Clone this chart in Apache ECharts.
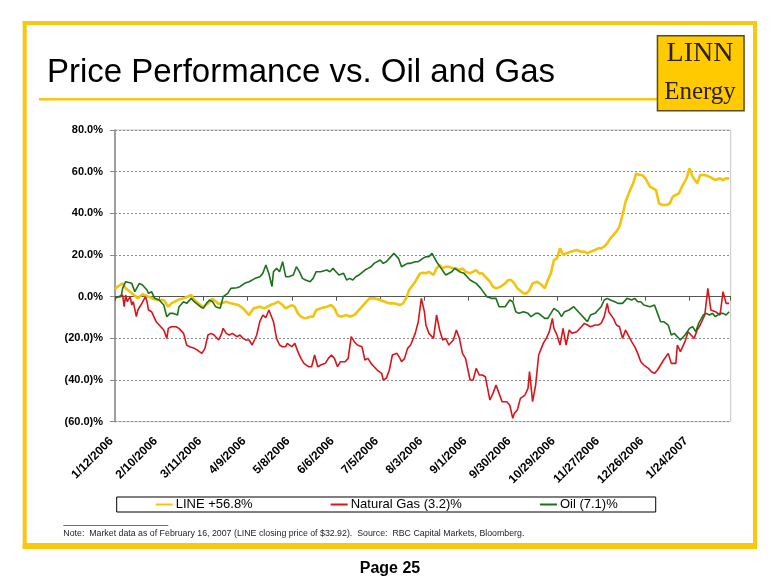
<!DOCTYPE html>
<html>
<head>
<meta charset="utf-8">
<script src="https://cdn.jsdelivr.net/npm/echarts@6/dist/echarts.min.js"></script>
<style>
html,body{margin:0;padding:0;background:#fff;}
#chart{width:780px;height:587px;}
</style>
</head>
<body>
<div id="chart"></div>
<script>
// Day offsets are counted from the first trading date, 1/12/2006.
var startDate = '1/12/2006';
var tickLabels = ['1/12/2006','2/10/2006','3/11/2006','4/9/2006','5/8/2006','6/6/2006','7/5/2006','8/3/2006','9/1/2006','9/30/2006','10/29/2006','11/27/2006','12/26/2006','1/24/2007'];
var tickStepDays = 29;
var lastDay = 404;

var seriesNames = ['LINE +56.8%', 'Natural Gas (3.2)%', 'Oil (7.1)%'];

var lineDays = [0,2,5,7,11,15,18,22,25,28,32,35,37,41,45,50,52,56,58,61,64,68,73,76,81,84,88,91,95,98,100,102,105,107,110,112,116,118,120,122,125,128,130,132,135,139,142,144,146,148,152,154,157,160,164,167,168,170,174,177,180,183,187,189,191,193,197,200,202,204,206,209,211,213,215,217,219,222,224,226,228,230,233,235,237,239,241,243,246,248,250,253,256,258,260,262,264,268,270,272,274,277,280,282,284,286,288,290,292,294,296,299,303,306,308,310,312,315,317,319,321,323,325,329,331,333,335,338,340,342,344,346,348,351,353,355,357,359,362,364,366,368,370,372,375,377,379,382,384,387,390,392,394,397,399,401,403];
var lineVals = [3.5,5,6.4,4,1.6,-0.8,1.2,0,-1,-1.6,-1.6,-4.8,-3.2,-1.6,-0.8,0.8,-1.6,-4,-4.8,-3.2,-1,-3.5,-2.4,-3.2,-4,-5.6,-8.8,-5.6,-4.8,-5.6,-4.8,-4,-3.2,-2.4,-4,-5.6,-4,-4.8,-8,-9.6,-10.4,-9.6,-9.6,-6.4,-5.6,-4.8,-4,-5.6,-8.8,-9.6,-8.8,-9.6,-8.8,-6.4,-3.2,-0.8,0,-0.8,-1.6,-2.4,-3.2,-3.2,-4,-3.2,-0.8,3.2,7.2,11,11.5,11.2,12,10.4,13.6,15.2,13.6,14.4,14.4,13.6,13.6,12.8,13.6,12,11.2,12,12.8,11.2,11.2,9.6,7.2,4.8,4,4.8,6.4,8,8,6.4,4,1.6,1.6,3.2,6.4,7.2,5.6,4,8,11.2,17.6,18.4,23.2,20,20.8,21.6,22.4,21.6,21.6,20.8,21.6,22.4,23.2,23.2,24,25.6,28,31.2,33.6,39.2,45.6,51.2,54.4,59.2,58.4,58.4,56.8,52.8,52,51.2,44.8,44,44,44.8,48,48.8,49.6,52.8,56.8,61.6,57.6,54.4,58.4,58.4,57.6,56.8,56,56.8,56,56.8,56.8];

var gasDays = [0,5,6,7,8,10,11,12,14,15,17,20,21,22,24,26,27,29,32,33,34,35,37,40,42,45,47,49,52,54,57,59,61,63,65,68,70,71,73,75,77,80,82,84,86,88,90,93,95,97,99,101,104,106,108,110,112,113,116,118,120,122,124,127,129,131,133,135,138,140,142,144,146,148,151,153,155,157,159,162,164,166,168,170,172,175,176,178,180,182,185,187,188,190,192,194,197,199,201,202,203,204,206,209,211,213,215,217,219,222,224,226,228,230,233,235,237,239,241,243,246,248,250,252,254,257,259,261,262,264,266,269,271,272,274,276,277,278,281,283,285,287,288,290,292,294,296,298,300,303,306,308,310,312,315,317,319,321,323,324,327,329,331,333,335,336,339,341,343,345,347,350,352,354,356,358,360,363,365,368,369,371,374,376,378,380,382,384,387,389,391,392,394,397,399,401,403];
var gasVals = [-0.8,0.8,-4.8,0.8,-2.4,0,-4,-2.4,-9.6,-6.4,-4,0,-2.4,-6.4,-7.2,-10.4,-12,-13.6,-16,-16.8,-20,-15.2,-14.4,-14.4,-15.2,-17.6,-23.2,-24,-24.8,-25.6,-27.2,-24.8,-18.4,-17.6,-18.4,-20.8,-17.6,-15.2,-17.6,-18.4,-17.6,-19.2,-18.4,-20,-20.8,-20.8,-23.2,-18.4,-12,-8.8,-10,-6.4,-12,-20,-23.2,-24,-24,-22.4,-24,-22.4,-26.4,-29.6,-32,-33.6,-33.6,-28,-33.6,-32.8,-32,-29.6,-28,-29.6,-33.6,-31.2,-31.2,-29.6,-19.2,-21.6,-23.2,-24,-30.4,-29.6,-32,-33.6,-35.2,-36.8,-40,-39.2,-35.2,-28,-27.2,-29.6,-31.2,-29.6,-24.8,-23.2,-17.6,-12,-0.8,0,-7.2,-13.6,-17.6,-20,-8.8,-16,-20.8,-20,-23.2,-20.8,-16,-20,-27.2,-29.6,-40,-40,-34.4,-37.6,-37.6,-38.4,-49.6,-46.4,-42.4,-46.4,-50.4,-50.4,-52,-58.4,-56,-54.4,-48.8,-47.2,-44,-36,-50.4,-42.4,-35.2,-28,-22.4,-20,-16.8,-10.4,-15.2,-18.4,-23.2,-15.2,-23.2,-16,-17.6,-16.8,-14.4,-12.8,-13.6,-14.4,-13.6,-13.6,-12.8,-9.6,-3.2,-7.2,-10.4,-13.6,-14.4,-20,-16,-16.8,-21.6,-24,-27.2,-31.2,-32.8,-34.4,-36,-36.8,-35.2,-32.8,-30.4,-27.2,-32,-32,-23.2,-26.4,-21.6,-16.8,-18.4,-20,-16,-13.6,-8.8,4,-6.4,-7.2,-7.2,-8.8,2.4,-3.2,-3.2];

var oilDays = [0,4,5,7,11,13,16,18,21,22,24,26,29,32,34,36,38,41,42,45,47,50,52,56,58,60,62,64,66,69,71,74,76,80,82,85,88,92,95,97,99,101,103,104,106,108,110,112,114,117,119,121,123,125,128,130,132,135,139,141,143,145,147,150,152,154,156,158,160,164,166,168,170,174,176,178,180,183,186,188,190,192,194,197,199,202,204,206,208,211,214,217,221,223,226,229,233,235,237,240,244,247,250,252,256,259,261,263,265,268,271,273,276,278,282,284,286,288,291,293,295,298,301,304,306,308,310,312,315,317,319,321,323,325,328,330,333,336,339,341,343,345,347,351,354,356,358,360,363,365,367,369,371,374,377,379,381,383,386,388,390,392,394,397,399,401,403];
var oilVals = [0,0,4,7.2,6.4,2.4,6.4,5.6,3.2,1.6,2.4,-0.8,-1.6,-4,-9.6,-8,-8,-8.8,-4.8,-2.4,-3.2,-0.8,-2.4,-4.8,-5.6,-3.2,-1.6,-2.4,-4.8,-5.6,0,1.6,4,4.3,4.8,6.4,7.2,8.8,9.6,11.2,15.2,11,4.8,12,13.6,12,16.8,9.6,9.6,10.4,14.4,12,8.8,8,7.2,8.8,12,12,12.8,12,13.6,12,10.4,11.2,8,8.8,8,9.6,10.4,12.8,13.6,14.4,16,17.6,16,16.8,18.4,20.8,18.4,14.4,15.2,16,16,16.8,16.8,18.4,19.2,19.2,20.8,16.8,13.6,10.4,12,13.6,12,11.2,8,7.2,6.4,4,0,-0.8,-0.8,-4.8,-4.8,-1.6,-2.4,-7.2,-8,-7.2,-8,-9.6,-8,-8,-10.4,-10.4,-8,-5.6,-7.2,-9.6,-7.2,-6.4,-4.8,-7.2,-8.8,-10.4,-12,-8.8,-8,-6.4,-4.8,-1.6,-0.8,-1.6,-2.4,-3.2,-3.2,-0.8,-1.6,-0.8,-2.4,-2.4,-4,-4.8,-4,-8,-12,-12,-13.6,-18.4,-17.6,-19.2,-20.8,-18.4,-15.2,-14.4,-16.8,-12.8,-8.8,-8,-8.8,-8,-9.6,-8,-8,-8.8,-7.2];

function pairs(days, vals) {
  var out = [];
  for (var i = 0; i < days.length; i++) out.push([days[i], vals[i]]);
  return out;
}

var SANS = '"Liberation Sans", Arial, sans-serif';
var SERIF = '"Liberation Serif", "Times New Roman", serif';
var FRAME = '#F8C80F';
var lineColors = ['#F2C40C', '#D7161C', '#1A721A'];

function pctLabel(v) {
  if (v === 0) return '0.0%';
  if (v > 0) return v.toFixed(1) + '%';
  return '(' + Math.abs(v).toFixed(1) + ')%';
}

var chart = echarts.init(document.getElementById('chart'), null, {renderer: 'canvas'});

var option = {
  animation: false,
  backgroundColor: '#ffffff',
  grid: {
    left: 115, top: 130, width: 615.7, height: 291.7,
    containLabel: false, outerBoundsMode: 'none',
    show: true, borderColor: '#c4c4c4', borderWidth: 1, backgroundColor: '#ffffff'
  },
  legend: {
    left: 116.7, top: 497,
    orient: 'horizontal',
    data: seriesNames,
    selectedMode: false,
    icon: 'rect',
    itemWidth: 17, itemHeight: 2,
    itemGap: 78,
    padding: [1, 38, 1, 39],
    borderColor: '#000', borderWidth: 1,
    textStyle: {fontFamily: SANS, fontSize: 13, color: '#000', lineHeight: 13, padding: [0,0,0,-2]}
  },
  xAxis: [
    {
      type: 'value', position: 'bottom', min: 0, max: lastDay, interval: tickStepDays,
      axisLine: {show: false, onZero: false}, axisTick: {show: false}, splitLine: {show: false},
      axisLabel: {
        rotate: 45, margin: 14, padding: [0, 5, 0, 0],
        fontFamily: SANS, fontSize: 12, fontWeight: 'bold', color: '#000',
        showMaxLabel: false,
        formatter: function (v) {
          if (v % tickStepDays !== 0) return '';
          return tickLabels[v / tickStepDays] || '';
        }
      }
    },
    {
      type: 'value', position: 'bottom', min: 0, max: lastDay, interval: tickStepDays,
      axisLine: {show: true, onZero: true, onZeroAxisIndex: 0, lineStyle: {color: '#555555', width: 1}},
      axisTick: {show: true, inside: false, length: 4, lineStyle: {color: '#555555', width: 1}},
      axisLabel: {show: false}, splitLine: {show: false}
    }
  ],
  yAxis: {
    type: 'value', min: -60, max: 80, interval: 20,
    axisLine: {show: true, lineStyle: {color: '#8a8a8a', width: 1.5}},
    axisTick: {show: true, inside: false, length: 5, lineStyle: {color: '#8a8a8a', width: 1}},
    splitLine: {show: true, lineStyle: {color: '#8c8c8c', width: 1, type: [2, 2]}},
    axisLabel: {margin: 12, fontFamily: SANS, fontSize: 11, fontWeight: 'bold', color: '#000', formatter: pctLabel}
  },
  series: [
    {name: seriesNames[0], type: 'line', xAxisIndex: 0, showSymbol: false, symbol: 'none',
     data: pairs(lineDays, lineVals), color: lineColors[0], lineStyle: {width: 2.6, color: lineColors[0]}, z: 3},
    {name: seriesNames[1], type: 'line', xAxisIndex: 0, showSymbol: false, symbol: 'none',
     data: pairs(gasDays, gasVals), color: lineColors[1], lineStyle: {width: 1.6, color: lineColors[1]}, z: 4},
    {name: seriesNames[2], type: 'line', xAxisIndex: 0, showSymbol: false, symbol: 'none',
     data: pairs(oilDays, oilVals), color: lineColors[2], lineStyle: {width: 1.6, color: lineColors[2]}, z: 5}
  ],
  graphic: [
    // slide frame
    {type: 'rect', left: 22.7, top: 21, shape: {width: 4, height: 528}, style: {fill: FRAME}, silent: true},
    {type: 'rect', left: 22.7, top: 21, shape: {width: 734.3, height: 4}, style: {fill: FRAME}, silent: true},
    {type: 'rect', left: 753, top: 21, shape: {width: 4, height: 528}, style: {fill: FRAME}, silent: true},
    {type: 'rect', left: 22.7, top: 543, shape: {width: 734.3, height: 6}, style: {fill: FRAME}, silent: true},
    // title and its rule
    {type: 'text', x: 47, y: 72.5, style: {text: 'Price Performance vs. Oil and Gas', font: 'normal 33px ' + SANS, fill: '#000', verticalAlign: 'middle', align: 'left'}},
    {type: 'rect', left: 39, top: 98, shape: {width: 618, height: 2.6}, style: {fill: FRAME}, silent: true},
    // logo
    {type: 'rect', left: 656.7, top: 35, shape: {x: 0, y: 0, width: 86.6, height: 75}, style: {fill: '#FFCA00', stroke: '#5c4a14', lineWidth: 1.5}},
    {type: 'text', x: 700, y: 53.5, style: {text: 'LINN', font: 'normal 28px ' + SERIF, fill: '#2b2100', align: 'center', verticalAlign: 'middle'}},
    {type: 'text', x: 700, y: 92, style: {text: 'Energy', font: 'normal 25px ' + SERIF, fill: '#2b2100', align: 'center', verticalAlign: 'middle'}},
    // note
    {type: 'rect', left: 63.3, top: 525.3, shape: {width: 105, height: 0.8}, style: {fill: '#444'}},
    {type: 'text', x: 63.3, y: 534, style: {text: 'Note:  Market data as of February 16, 2007 (LINE closing price of $32.92).  Source:  RBC Capital Markets, Bloomberg.', font: 'normal 8.8px ' + SANS, fill: '#222', verticalAlign: 'middle', align: 'left'}},
    // page number
    {type: 'text', x: 390, y: 568.5, style: {text: 'Page 25', font: 'bold 16px ' + SANS, fill: '#000', align: 'center', verticalAlign: 'middle'}}
  ]
};

chart.setOption(option);
</script>
</body>
</html>
